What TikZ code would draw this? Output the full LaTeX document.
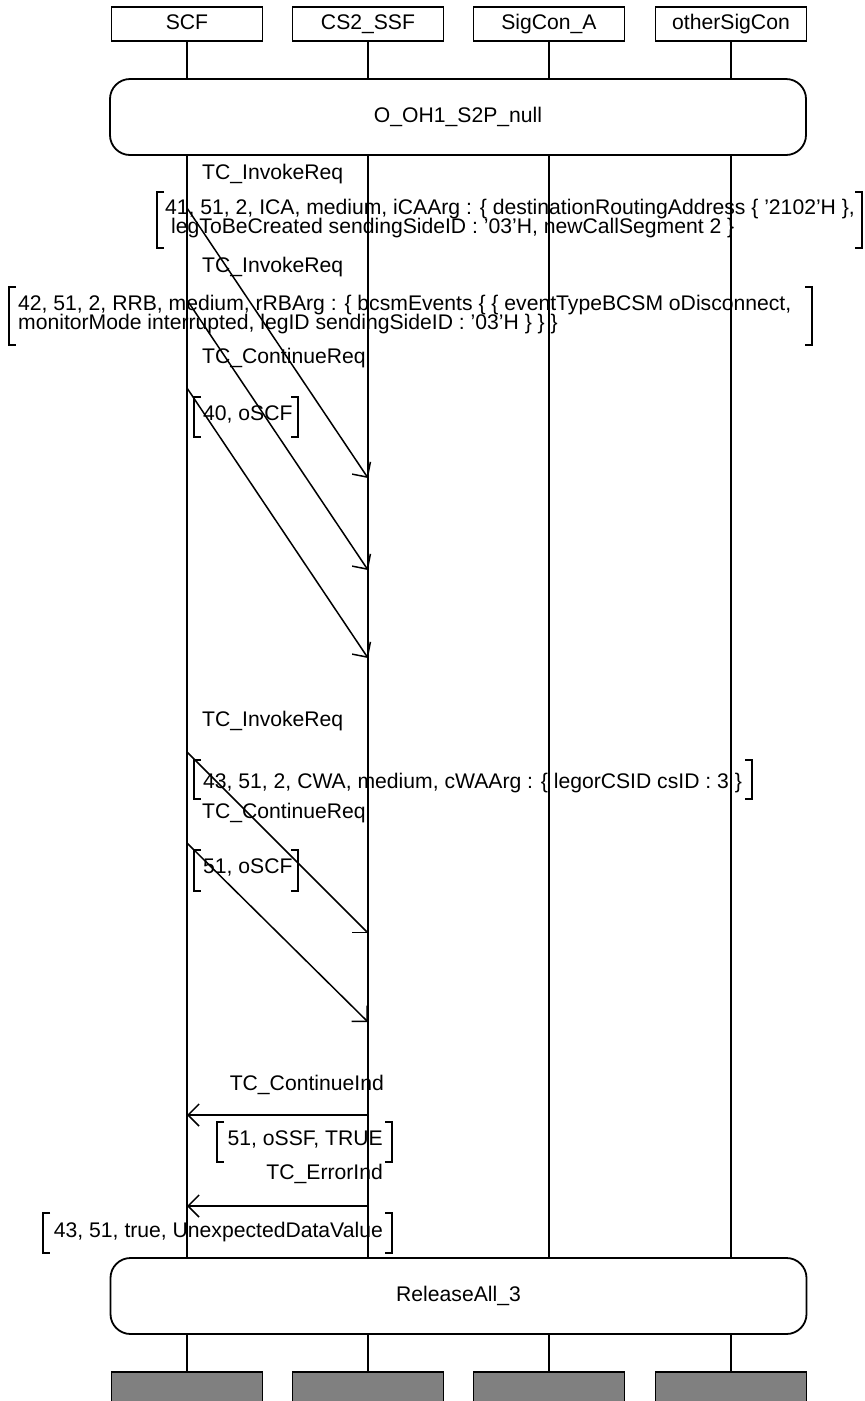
\documentclass[tikz,border=0pt]{standalone}
\usepackage{fontspec}
\setmainfont{Liberation Sans}
\usetikzlibrary{arrows.meta}
\definecolor{endgray}{HTML}{808080}
\newcommand\sqbr[4]{%
  \draw[brk] (#1+7,#3) -- (#1,#3) -- (#1,#4) -- (#1+7,#4);
  \draw[brk] (#2-7,#3) -- (#2,#3) -- (#2,#4) -- (#2-7,#4);}
\begin{document}
\begin{tikzpicture}[x=1pt,y=-1pt,
  every node/.style={font=\fontsize{21.15}{19}\selectfont},
  hdr/.style={draw,line width=1.8pt,minimum width=151pt,minimum height=34pt,inner sep=0pt,text height=15pt,text depth=4pt},
  endbox/.style={draw,line width=1.8pt,fill=endgray,minimum width=151pt,minimum height=38pt,inner sep=0pt},
  state/.style={draw,line width=1.8pt,fill=white,rounded corners=20pt,minimum width=696pt,minimum height=76pt,inner sep=0pt,text height=15pt,text depth=4pt},
  lbl/.style={inner sep=0pt,anchor=base west},
  lblr/.style={inner sep=0pt,anchor=base east},
  life/.style={line width=1.6pt},
  msg/.style={line width=1.5pt,-{Straight Barb[length=11pt,width=22pt]}},
  brk/.style={line width=1.5pt}]
\useasboundingbox (0,0) rectangle (865,1401);
% instances
\node[hdr] (scf) at (187,24) {SCF};
\node[hdr] (ssf) at (368,24) {CS2\_SSF};
\node[hdr] (siga) at (549,24) {SigCon\_A};
\node[hdr] (oth) at (731,24) {otherSigCon};
\node[endbox] (scfE) at (187,1391) {};
\node[endbox] (ssfE) at (368,1391) {};
\node[endbox] (sigaE) at (549,1391) {};
\node[endbox] (othE) at (731,1391) {};
% lifelines
\draw[life] (scf.south) -- (scfE.north);
\draw[life] (ssf.south) -- (ssfE.north);
\draw[life] (siga.south) -- (sigaE.north);
\draw[life] (oth.south) -- (othE.north);
% states
\node[state] (st1) at (458,117) {O\_OH1\_S2P\_null};
\node[state] (st2) at (458.5,1296) {ReleaseAll\_3};
% message coordinates
\coordinate (m1s) at (187,208); \coordinate (m1e) at (368,478);
\coordinate (m2s) at (187,300); \coordinate (m2e) at (368,570);
\coordinate (m3s) at (187,388); \coordinate (m3e) at (368,658);
\coordinate (m4s) at (187,752); \coordinate (m4e) at (368,933);
\coordinate (m5s) at (187,843); \coordinate (m5e) at (368,1022);
\coordinate (m6s) at (368,1115); \coordinate (m6e) at (187,1115);
\coordinate (m7s) at (368,1206); \coordinate (m7e) at (187,1206);
% message 1
\node[lbl] (t1) at (202,179) {TC\_InvokeReq};
\node[lbl] (p1a) at (165,214) {41, 51, 2, ICA, medium, iCAArg : \{ destinationRoutingAddress \{ '2102'H \},};
\node[lbl] (p1b) at (171,233) {legToBeCreated sendingSideID : '03'H, newCallSegment 2 \}};
\sqbr{157}{862}{192}{248}
\draw[msg] (m1s) -- (m1e);
% message 2
\node[lbl] (t2) at (202,272) {TC\_InvokeReq};
\node[lbl] (p2a) at (18,310) {42, 51, 2, RRB, medium, rRBArg : \{ bcsmEvents \{ \{ eventTypeBCSM oDisconnect,};
\node[lbl] (p2b) at (18,329) {monitorMode interrupted, legID sendingSideID : '03'H \} \} \}};
\sqbr{9}{812}{287}{345}
\draw[msg] (m2s) -- (m2e);
% message 3
\node[lbl] (t3) at (202,363) {TC\_ContinueReq};
\node[lbl] (p3) at (203,420) {40, oSCF};
\sqbr{194}{298}{397}{437}
\draw[msg] (m3s) -- (m3e);
% message 4
\node[lbl] (t4) at (202,726) {TC\_InvokeReq};
\node[lbl] (p4) at (203,788) {43, 51, 2, CWA, medium, cWAArg : \{ legorCSID csID : 3 \}};
\sqbr{194}{752}{760}{799}
\draw[msg] (m4s) -- (m4e);
% message 5
\node[lbl] (t5) at (202,818) {TC\_ContinueReq};
\node[lbl] (p5) at (203,873) {51, oSCF};
\sqbr{194}{298}{850}{891}
\draw[msg] (m5s) -- (m5e);
% message 6
\node[lblr] (t6) at (384,1090) {TC\_ContinueInd};
\draw[msg] (m6s) -- (m6e);
\node[lblr] (p6) at (383,1145) {51, oSSF, TRUE};
\sqbr{217}{392}{1122}{1162}
% message 7
\node[lblr] (t7) at (383,1179) {TC\_ErrorInd};
\draw[msg] (m7s) -- (m7e);
\node[lblr] (p7) at (383,1237) {43, 51, true, UnexpectedDataValue};
\sqbr{43}{392}{1213}{1253}
\end{tikzpicture}
\end{document}
